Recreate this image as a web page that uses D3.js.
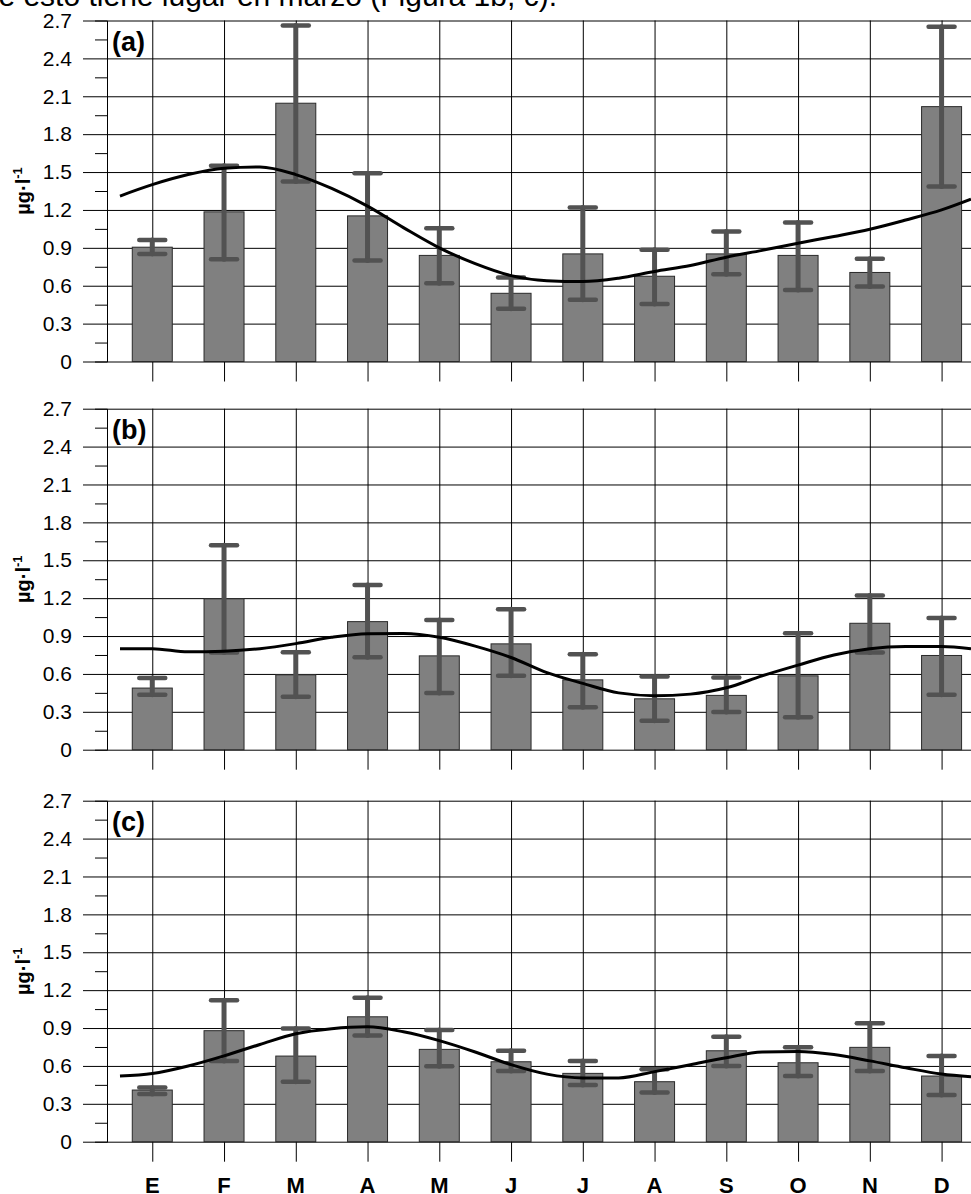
<!DOCTYPE html>
<html>
<head>
<meta charset="utf-8">
<script src="https://cdn.jsdelivr.net/npm/d3@7"></script>
<style>
  body { margin: 0; background: #fff; }
  svg { display: block; font-family: "Liberation Sans", Arial, sans-serif; }
</style>
</head>
<body>
<svg id="chart" width="971" height="1194"></svg>
<script>
// months (Spanish initials), index 0..11 is used on the x scale
const months = ["E", "F", "M", "A", "M", "J", "J", "A", "S", "O", "N", "D"];
const yTicks = [0, 0.3, 0.6, 0.9, 1.2, 1.5, 1.8, 2.1, 2.4, 2.7];
const yMinor = [0.15, 0.45, 0.75, 1.05, 1.35, 1.65, 1.95, 2.25, 2.55];

// panel (a)
const meanA = [0.905, 1.185, 2.045, 1.153, 0.84, 0.54, 0.852, 0.675, 0.852, 0.84, 0.705, 2.018];
const hiA   = [0.963, 1.55, 2.66, 1.49, 1.055, 0.665, 1.22, 0.884, 1.03, 1.10, 0.813, 2.65];
const loA   = [0.852, 0.81, 1.425, 0.80, 0.62, 0.417, 0.488, 0.456, 0.69, 0.567, 0.594, 1.385];

// panel (b)
const meanB = [0.488, 1.195, 0.593, 1.014, 0.743, 0.838, 0.553, 0.403, 0.43, 0.585, 1.001, 0.746];
const hiB   = [0.567, 1.618, 0.772, 1.304, 1.027, 1.112, 0.756, 0.58, 0.572, 0.922, 1.22, 1.043];
const loB   = [0.435, 0.77, 0.42, 0.732, 0.448, 0.585, 0.337, 0.229, 0.298, 0.256, 0.77, 0.435];

// panel (c)
const meanC = [0.409, 0.879, 0.678, 0.989, 0.731, 0.633, 0.541, 0.475, 0.72, 0.625, 0.747, 0.52];
const hiC   = [0.43, 1.12, 0.897, 1.14, 0.884, 0.72, 0.638, 0.573, 0.831, 0.747, 0.937, 0.678];
const loC   = [0.377, 0.639, 0.475, 0.84, 0.597, 0.56, 0.449, 0.39, 0.599, 0.52, 0.56, 0.37];

// fitted seasonal curves, sampled every half month (month index)
const curveX = [-0.45, 0, 0.5, 1, 1.5, 2, 2.5, 3, 3.5, 4, 4.5, 5, 5.5, 6, 6.5, 7, 7.5, 8, 8.5, 9, 9.5, 10, 10.5, 11, 11.41];
const curveA = [1.31, 1.40, 1.48, 1.53, 1.54, 1.48, 1.37, 1.23, 1.06, 0.90, 0.775, 0.68, 0.64, 0.633, 0.66, 0.713, 0.76, 0.826, 0.88, 0.937, 0.99, 1.047, 1.12, 1.20, 1.285];
const curveB = [0.80, 0.80, 0.775, 0.78, 0.80, 0.84, 0.89, 0.918, 0.92, 0.89, 0.82, 0.73, 0.61, 0.525, 0.45, 0.428, 0.44, 0.49, 0.585, 0.67, 0.75, 0.80, 0.817, 0.817, 0.80];
const curveC = [0.52, 0.54, 0.60, 0.68, 0.77, 0.855, 0.895, 0.91, 0.87, 0.80, 0.71, 0.61, 0.535, 0.505, 0.505, 0.555, 0.61, 0.665, 0.71, 0.715, 0.69, 0.64, 0.585, 0.536, 0.515];

const panels = [
    {label: "(a)", mean: meanA, hi: hiA, lo: loA, curve: curveA, top: 20.5},
    {label: "(b)", mean: meanB, hi: hiB, lo: loB, curve: curveB, top: 408.7},
    {label: "(c)", mean: meanC, hi: hiC, lo: loC, curve: curveC, top: 800.7}
];

const W = 971, H = 1194;
const plotLeft = 107, gridLeft = 83, panelH = 341;
const barW = 40, capW = 26;

let svg = d3.select("#chart");

let x = d3.scaleLinear().domain([-0.631, 11.41]).range([plotLeft, W]);

// running text of the page, cut by the top edge
svg.append("text")
    .attr("x", 557)
    .attr("y", 6)
    .attr("text-anchor", "end")
    .style("font-size", "30px")
    .style("fill", "#000")
    .text("que esto tiene lugar en marzo (Figura 1b, c).");

let drawPanel = function(p){
    let y = d3.scaleLinear().domain([0, 2.7]).range([p.top + panelH, p.top]);
    let g = svg.append("g");

    // horizontal grid + tick labels
    let yAxis = g.append("g")
        .attr("transform", `translate(${gridLeft},0)`)
        .call(d3.axisLeft(y).tickValues(yTicks).tickSize(-(W - gridLeft)).tickPadding(11)
            .tickFormat(d => d === 0 ? "0" : d.toFixed(1)));
    yAxis.select(".domain").remove();
    yAxis.selectAll(".tick line").attr("stroke", "#000");
    yAxis.selectAll(".tick text")
        .style("font-size", "21px")
        .style("fill", "#000")
        .attr("font-family", "Liberation Sans, Arial, sans-serif");

    // vertical grid, running down past the axis as ticks
    let xGrid = g.append("g")
        .attr("transform", `translate(0,${p.top})`)
        .call(d3.axisTop(x).tickValues(d3.range(months.length)).tickSize(-(panelH + 20)).tickFormat(""));
    xGrid.select(".domain").remove();
    xGrid.selectAll(".tick line").attr("stroke", "#000");

    // minor ticks on the left axis
    let minor = g.append("g")
        .attr("transform", `translate(${plotLeft},0)`)
        .call(d3.axisLeft(y).tickValues(yMinor).tickSize(12).tickFormat(""));
    minor.select(".domain").attr("stroke", "#000");
    minor.selectAll(".tick line").attr("stroke", "#000");

    // bars
    g.selectAll(".bar").data(p.mean).enter().append("rect")
        .attr("class", "bar")
        .attr("x", (d, i) => x(i) - barW / 2)
        .attr("y", d => y(d))
        .attr("width", barW)
        .attr("height", d => y(0) - y(d))
        .style("fill", "#808080")
        .style("stroke", "#2a2a2a")
        .style("stroke-width", "1px");

    // error bars
    let eb = g.selectAll(".err").data(p.mean).enter().append("g")
        .attr("class", "err")
        .style("stroke", "#525252")
        .style("stroke-linecap", "round");
    eb.append("line")
        .attr("x1", (d, i) => x(i)).attr("x2", (d, i) => x(i))
        .attr("y1", (d, i) => y(p.lo[i])).attr("y2", (d, i) => y(p.hi[i]))
        .style("stroke-width", "5px");
    eb.append("line")
        .attr("x1", (d, i) => x(i) - capW / 2).attr("x2", (d, i) => x(i) + capW / 2)
        .attr("y1", (d, i) => y(p.hi[i])).attr("y2", (d, i) => y(p.hi[i]))
        .style("stroke-width", "4.5px");
    eb.append("line")
        .attr("x1", (d, i) => x(i) - capW / 2).attr("x2", (d, i) => x(i) + capW / 2)
        .attr("y1", (d, i) => y(p.lo[i])).attr("y2", (d, i) => y(p.lo[i]))
        .style("stroke-width", "4.5px");

    // fitted curve
    let line = d3.line()
        .x((d, i) => x(curveX[i]))
        .y(d => y(d))
        .curve(d3.curveMonotoneX);
    g.append("path")
        .datum(p.curve)
        .attr("d", line)
        .style("fill", "none")
        .style("stroke", "#000")
        .style("stroke-width", "3px");

    // panel letter
    g.append("text")
        .attr("x", 112)
        .attr("y", p.top + 30)
        .style("font-size", "27px")
        .style("font-weight", "bold")
        .style("fill", "#000")
        .text(p.label);

    // y title
    let t = g.append("text")
        .attr("transform", `translate(30,${p.top + panelH / 2}) rotate(-90)`)
        .attr("text-anchor", "middle")
        .style("font-size", "20px")
        .style("font-weight", "bold")
        .style("fill", "#000");
    t.append("tspan").text("µg·l");
    t.append("tspan").attr("dy", -8).style("font-size", "13px").text("-1");

    return y;
};

panels.forEach(p => drawPanel(p));

// month letters under the last panel
svg.append("g").selectAll("text").data(months).enter().append("text")
    .attr("x", (d, i) => x(i))
    .attr("y", 1193)
    .attr("text-anchor", "middle")
    .style("font-size", "22px")
    .style("font-weight", "bold")
    .style("fill", "#000")
    .text(d => d);
</script>
</body>
</html>
